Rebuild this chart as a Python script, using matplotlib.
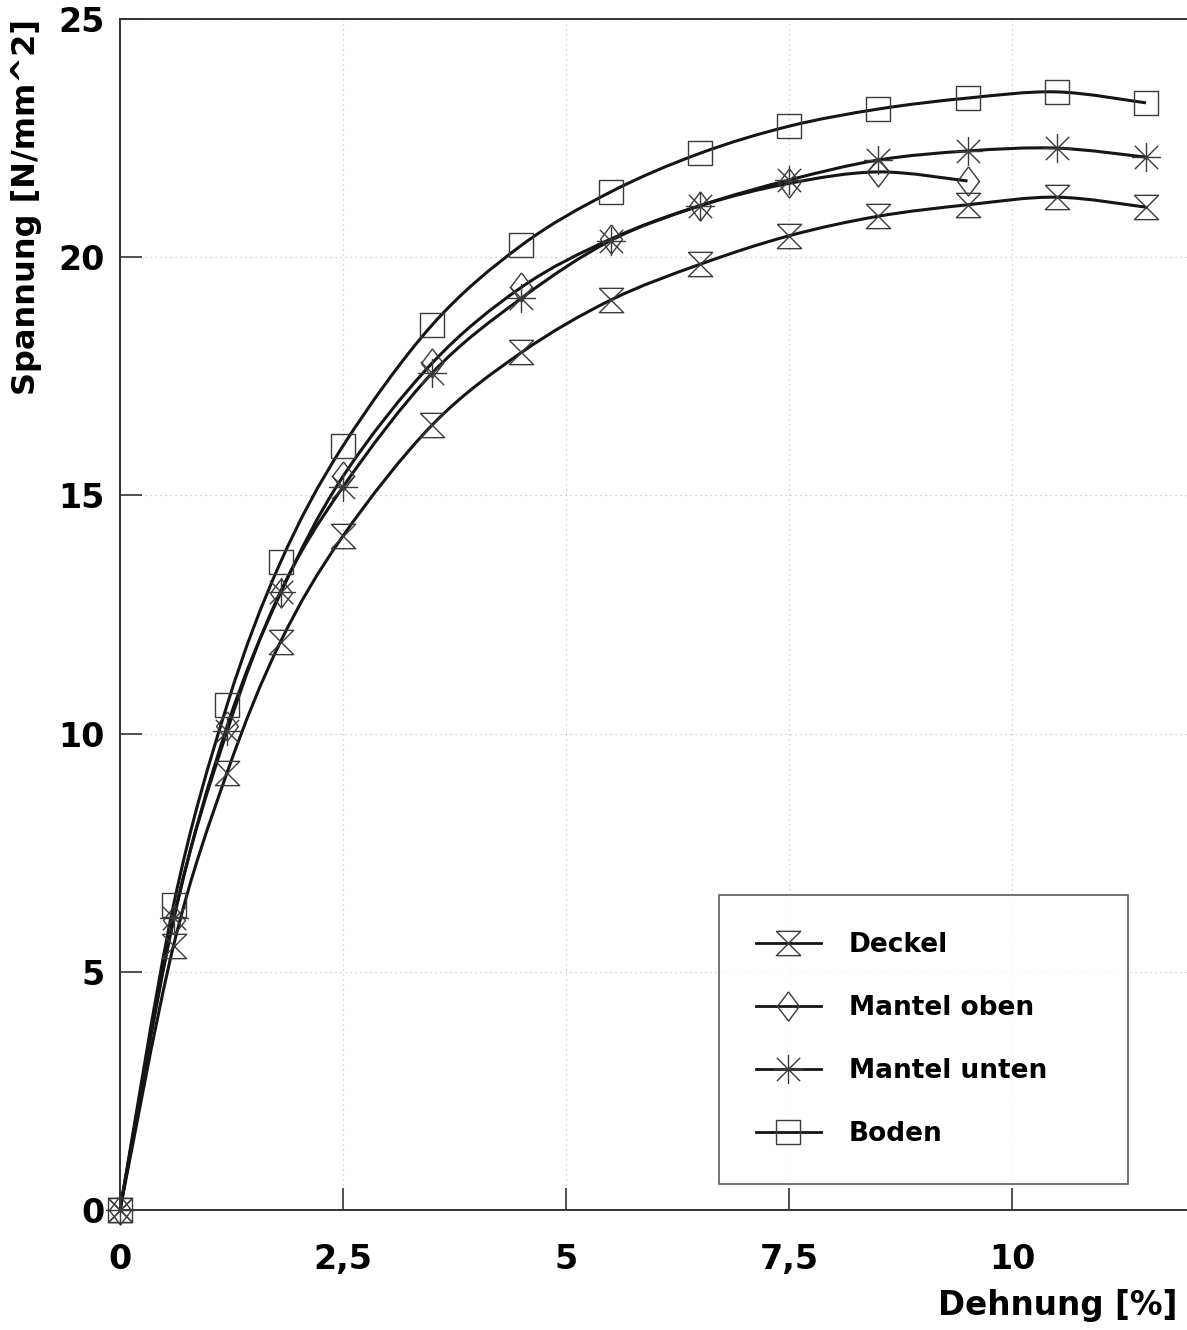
import numpy as np
import matplotlib.pyplot as plt
from matplotlib.path import Path
from matplotlib.patches import PathPatch
from matplotlib.lines import Line2D

plt.rcParams['font.family'] = ['DejaVu Sans']
plt.rcParams['font.weight'] = 'bold'

# Dehnung [%] der Messpunkte
dehnung = [0, 0.6, 1.2, 1.8, 2.5, 3.5, 4.5, 5.5, 6.5, 7.5, 8.5, 9.5, 10.5, 11.5]

# Spannung [N/mm^2] je Probe
deckel = [0, 5.55, 9.18, 11.93, 14.15, 16.48, 18.0, 19.1, 19.85, 20.45, 20.86, 21.1, 21.26, 21.05]
mantel_oben = [0, 6.08, 10.15, 12.95, 15.4, 17.78, 19.37, 20.38, 21.08, 21.55, 21.79, 21.6]
mantel_unten = [0, 6.12, 10.05, 12.98, 15.18, 17.57, 19.14, 20.35, 21.08, 21.62, 22.04, 22.23, 22.29, 22.1]
boden = [0, 6.4, 10.6, 13.6, 16.04, 18.58, 20.25, 21.37, 22.18, 22.75, 23.11, 23.34, 23.47, 23.24]

labels = ['Deckel', 'Mantel oben', 'Mantel unten', 'Boden']
x_ticks = [0, 2.5, 5, 7.5, 10]
x_ticklabels = ['0', '2,5', '5', '7,5', '10']
y_ticks = [0, 5, 10, 15, 20, 25]

# Marker-Symbole
hourglass = Path([(-1, 1), (1, 1), (-1, -1), (1, -1), (-1, 1)],
                 [Path.MOVETO, Path.LINETO, Path.LINETO, Path.LINETO, Path.LINETO])
diamond = Path([(0, 1), (0.75, 0), (0, -1), (-0.75, 0), (0, 1)],
               [Path.MOVETO, Path.LINETO, Path.LINETO, Path.LINETO, Path.LINETO])
d = 0.8
star = Path([(0, -1), (0, 1), (-1, 0), (1, 0), (-d, -d), (d, d), (-d, d), (d, -d)],
            [Path.MOVETO, Path.LINETO] * 4)
square = Path([(-1, -1), (1, -1), (1, 1), (-1, 1), (-1, -1)],
              [Path.MOVETO, Path.LINETO, Path.LINETO, Path.LINETO, Path.LINETO])

markers = [(hourglass, 17.5), (diamond, 21), (star, 21), (square, 17.5)]
series = [deckel, mantel_oben, mantel_unten, boden]


def smooth_path(x, y):
    # Catmull-Rom Kurve als Bezier-Pfad
    pts = np.column_stack([x, y]).astype(float)
    ext = np.vstack([pts[0], pts, pts[-1]])
    verts = [pts[0]]
    codes = [Path.MOVETO]
    for i in range(len(pts) - 1):
        p0, p1, p2, p3 = ext[i], ext[i + 1], ext[i + 2], ext[i + 3]
        verts += [p1 + (p2 - p0) / 6, p2 - (p3 - p1) / 6, p2]
        codes += [Path.CURVE4] * 3
    return Path(verts, codes)


fig = plt.figure(figsize=(11.87, 13.3), dpi=100)
ax = fig.add_axes([120 / 1187, 120 / 1330, 1067 / 1187, 1191 / 1330])

line_color = '#151515'
mark_color = '#3a3a3a'

handles = []
for vals, (mk, ms), lab in zip(series, markers, labels):
    xs = dehnung[:len(vals)]
    ax.add_patch(PathPatch(smooth_path(xs, vals), facecolor='none',
                           edgecolor=line_color, lw=2.2, zorder=3))
    ax.plot(xs, vals, ls='none', marker=mk, ms=ms, mfc='none', mec=mark_color,
            mew=1.0, zorder=4, clip_on=False)
    handles.append(Line2D([], [], color=line_color, lw=2.0, marker=mk, ms=ms,
                          mfc='none', mec=mark_color, mew=1.0, label=lab))

ax.set_xlim(0, 11.96)
ax.set_ylim(0, 25)
ax.set_xticks(x_ticks)
ax.set_xticklabels(x_ticklabels)
ax.set_yticks(y_ticks)

ax.grid(True, color='#c4c4c4', ls=(0, (1, 3)), lw=0.9)
ax.tick_params(axis='both', direction='in', length=16, width=1.2,
               color='#333333', labelsize=24)
ax.tick_params(axis='x', pad=24)
ax.tick_params(axis='y', pad=11)
for side in ['left', 'bottom', 'top']:
    ax.spines[side].set_linewidth(1.4)
    ax.spines[side].set_color('#333333')
ax.spines['right'].set_visible(False)

fig.text(27 / 1187, 1 - 19 / 1330, 'Spannung [N/mm^2]', rotation=90,
         ha='center', va='top', fontsize=23)
fig.text(1177 / 1187, 1 - 1305 / 1330, 'Dehnung [%]', ha='right',
         va='center', fontsize=23.5)

leg = ax.legend(handles=handles, loc='upper left', mode='expand',
                bbox_to_anchor=(719 / 1187, 1 - 1178 / 1330, 409 / 1187, 283 / 1330),
                bbox_transform=fig.transFigure, borderaxespad=0, fontsize=19,
                frameon=True, fancybox=False, edgecolor='#333333',
                handlelength=2.46, handletextpad=1.06, labelspacing=1.40,
                borderpad=1.4)
leg.get_frame().set_linewidth(1.2)

fig.savefig('out.png', dpi=100)
